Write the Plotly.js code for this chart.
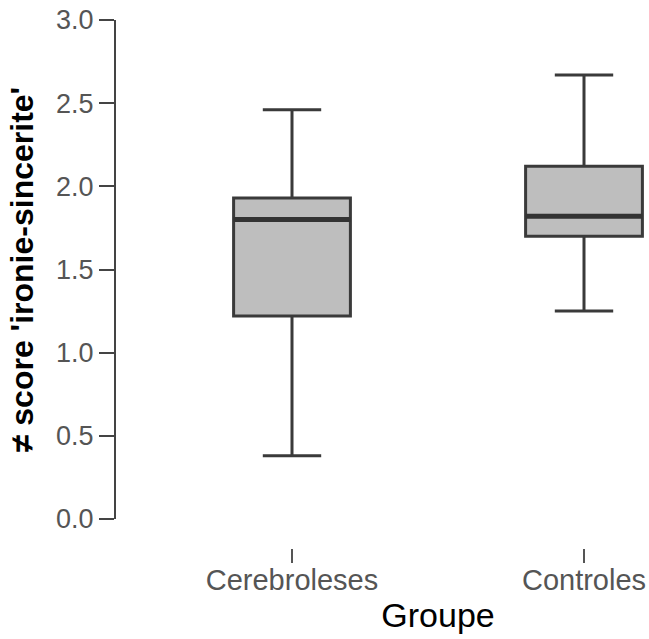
<!DOCTYPE html>
<html>
<head>
<meta charset="utf-8">
<script src="https://cdn.plot.ly/plotly-3.0.1.min.js"></script>
<style>html,body{margin:0;padding:0;background:#fff;}#chart{width:649px;height:639px;}</style>
</head>
<body>
<div id="chart"></div>
<script>
const categories = ['Cerebroleses', 'Controles'];
const lowerWhisker = [0.38, 1.25];
const q1Values = [1.22, 1.70];
const medianValues = [1.80, 1.82];
const q3Values = [1.93, 2.12];
const upperWhisker = [2.46, 2.67];
const yTickValues = [0, 0.5, 1, 1.5, 2, 2.5, 3];
const yTickLabels = ['0.0', '0.5', '1.0', '1.5', '2.0', '2.5', '3.0'];

const W = 649, H = 639;
const mt = 20, mb = 91;
const paperH = H - mt - mb;
const FONT = 'Liberation Sans, Arial, sans-serif';

const boxTrace = {
  type: 'box',
  x: categories,
  q1: q1Values,
  median: medianValues,
  q3: q3Values,
  lowerfence: lowerWhisker,
  upperfence: upperWhisker,
  width: 0.4,
  whiskerwidth: 0.5,
  fillcolor: '#bebebe',
  line: {color: '#3a3a3a', width: 3},
  boxpoints: false,
  hoverinfo: 'skip',
  showlegend: false
};
// thicker median line drawn as a flat box at the median value
const medianTrace = {
  type: 'box',
  x: categories,
  q1: medianValues,
  median: medianValues,
  q3: medianValues,
  lowerfence: medianValues,
  upperfence: medianValues,
  width: 0.4,
  whiskerwidth: 0,
  fillcolor: 'rgba(0,0,0,0)',
  line: {color: '#333333', width: 5},
  boxpoints: false,
  hoverinfo: 'skip',
  showlegend: false
};

const layout = {
  width: W, height: H,
  margin: {l: 0, r: 0, t: mt, b: mb, pad: 0},
  paper_bgcolor: '#fff', plot_bgcolor: '#fff',
  font: {family: FONT, color: '#000'},
  boxmode: 'overlay',
  showlegend: false,
  xaxis: {
    type: 'category',
    domain: [227 / W, 1],
    range: [-0.2226, 1.2226],
    anchor: 'free', position: 0,
    showline: false, showgrid: false, zeroline: false,
    ticks: 'outside', ticklen: 14, tickwidth: 1.5, tickcolor: '#555',
    ticklabelstandoff: -8,
    tickfont: {family: FONT, size: 29, color: '#555'},
    title: {text: 'Groupe', font: {family: FONT, size: 34, color: '#000'}, standoff: 8}
  },
  yaxis: {
    range: [0, 3],
    domain: [(548 - 519) / paperH, 1],
    anchor: 'free', position: 115 / W,
    showline: true, linecolor: '#444', linewidth: 2,
    showgrid: false, zeroline: false,
    tickmode: 'array', tickvals: yTickValues, ticktext: yTickLabels,
    ticks: 'outside', ticklen: 15, tickwidth: 2, tickcolor: '#444',
    tickfont: {family: FONT, size: 27, color: '#555'},
    title: {text: "≠ score 'ironie-sincerite'", font: {family: FONT, size: 32, color: '#000', weight: 'bold'}, standoff: 12}
  }
};

Plotly.newPlot('chart', [boxTrace, medianTrace], layout, {staticPlot: true, displayModeBar: false});
</script>
</body>
</html>
